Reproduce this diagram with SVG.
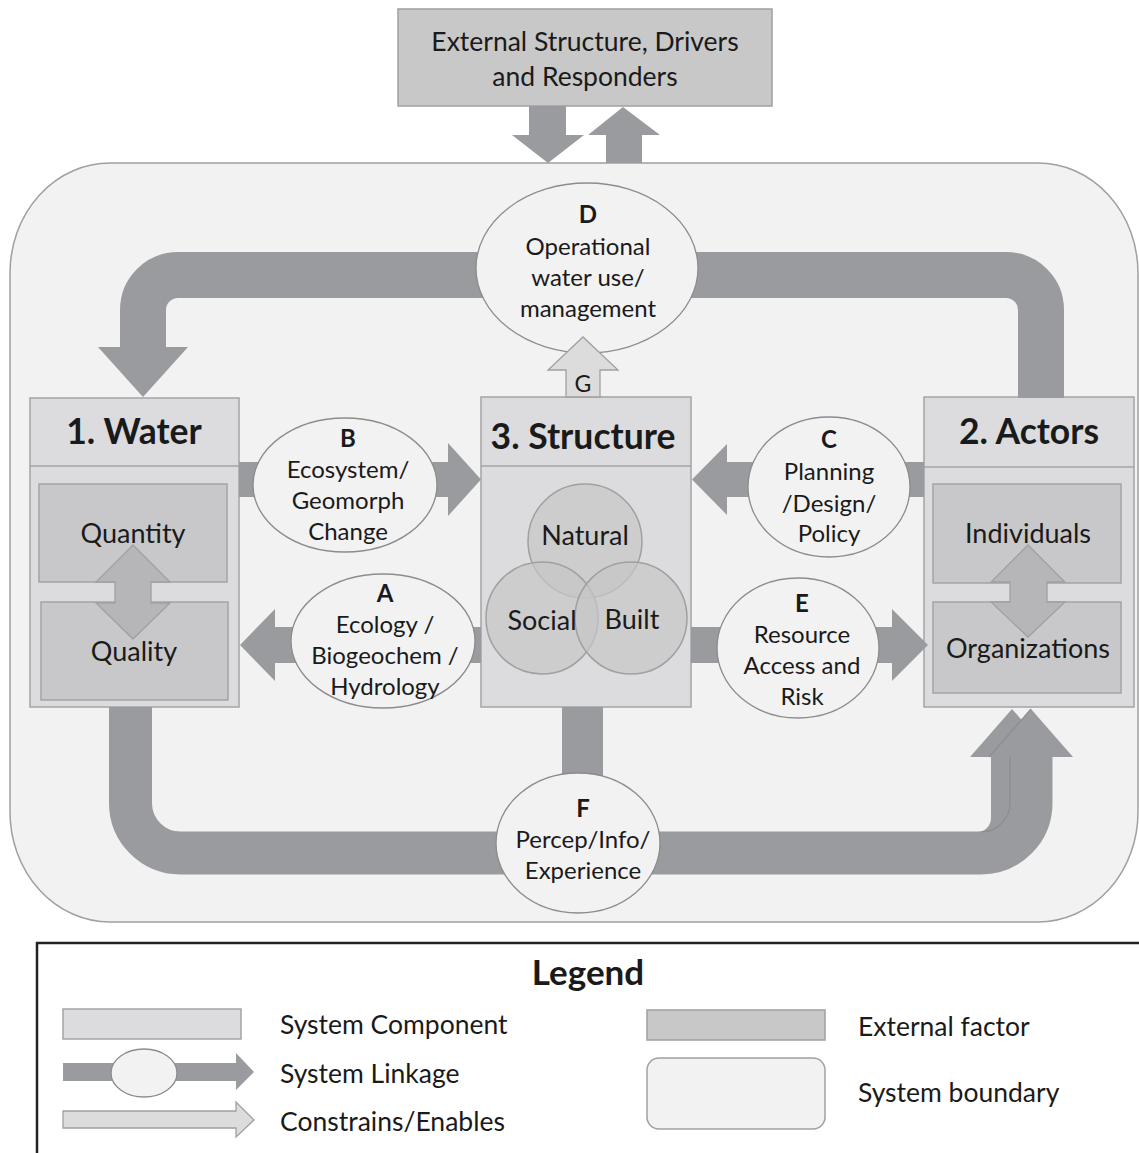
<svg xmlns="http://www.w3.org/2000/svg" width="1139" height="1153" viewBox="0 0 1139 1153">
<style>
text{font-family:Lato,"Open Sans","Liberation Sans",sans-serif;fill:#1a1a1a}
.hdr{font-size:35.5px;font-weight:bold;text-anchor:middle}
.sub{font-size:27px;text-anchor:middle}
.el{font-size:24px;text-anchor:middle}
.b{font-weight:bold}
.comp{fill:#dcdcde;stroke:#a4a4a6;stroke-width:1.5}
.inner{fill:#c8c8ca;stroke:#a4a4a6;stroke-width:1.5}
.ext{fill:#c8c8c8;stroke:#a0a0a0;stroke-width:1.5}
.link{fill:#f2f2f2;stroke:#8c8c8c;stroke-width:1.3}
.arr{fill:#9a9b9f}
.bar{fill:none;stroke:#9a9b9f}
.edge{fill:none;stroke:#8c8d91}
.light{fill:#dcdcdc;stroke:#a0a0a0;stroke-width:1.3}
.dbl{fill:#b6b6b9;stroke:#a0a0a2;stroke-width:1.3}
.circ{fill:#c6c6c8;fill-opacity:.7;stroke:#a0a0a2;stroke-width:1.5}
.leg{font-size:26.5px}
</style>
<rect width="1139" height="1153" fill="#ffffff"/>

<g id="system-boundary">
<rect x="10" y="163" width="1128" height="759" rx="100" ry="110" fill="#f2f2f2" stroke="#a0a0a0" stroke-width="1.5"/>
</g>

<g id="external">
<rect class="ext" x="398" y="9" width="374" height="97"/>
<text x="585" y="51" text-anchor="middle" font-size="26.5">External Structure, Drivers</text>
<text x="585" y="86" text-anchor="middle" font-size="26.5">and Responders</text>
</g>

<g id="water">
<rect class="comp" x="30" y="398" width="209" height="309"/>
<line x1="30" y1="466" x2="239" y2="466" stroke="#a4a4a6" stroke-width="1.5"/>
<text class="hdr" x="134" y="444">1. Water</text>
<rect class="inner" x="39" y="484" width="188" height="98"/>
<rect class="inner" x="41" y="602" width="187" height="98"/>
<text class="sub" x="133" y="543">Quantity</text>
<path class="dbl" d="M133,545 L170,582 H151 V603 H170 L133,639 L96,603 H115 V582 H96 Z"/>
<text class="sub" x="134" y="661">Quality</text>
</g>

<g id="structure">
<rect class="comp" x="481" y="397" width="210" height="310"/>
<line x1="481" y1="466" x2="691" y2="466" stroke="#a4a4a6" stroke-width="1.5"/>
<text class="hdr" x="583" y="449">3. Structure</text>
<circle class="circ" cx="585" cy="541" r="57"/>
<circle class="circ" cx="542" cy="618" r="56"/>
<circle class="circ" cx="631" cy="618" r="56"/>
<text class="sub" x="585" y="545">Natural</text>
<text class="sub" x="542" y="630">Social</text>
<text class="sub" x="632" y="629">Built</text>
</g>

<g id="actors">
<rect class="comp" x="924" y="397" width="210" height="310"/>
<line x1="924" y1="467" x2="1134" y2="467" stroke="#a4a4a6" stroke-width="1.5"/>
<text class="hdr" x="1029" y="444">2. Actors</text>
<rect class="inner" x="933" y="484" width="188" height="99"/>
<rect class="inner" x="933" y="602" width="188" height="91"/>
<text class="sub" x="1028" y="543">Individuals</text>
<path class="dbl" d="M1028,545 L1065,582 H1047 V602 H1065 L1028,637 L991,602 H1010 V582 H991 Z"/>
<text class="sub" x="1028" y="658">Organizations</text>
</g>

<g id="connectors">
<!-- external drivers / responders -->
<path class="arr" d="M529,106 H566 V135 H584 L548,163 L512,135 H529 Z"/>
<path class="arr" d="M606,163 V135 H588 L623,107 L660,135 H642 V163 Z"/>
<!-- D loop: Actors -> D -> Water -->
<path class="bar" stroke-width="46" d="M590,275 H178 A35,35 0 0 0 143,310 V348"/>
<path class="arr" d="M98,347 L188,347 L143,397 Z"/>
<path class="bar" stroke-width="46" d="M590,275 H1006 A35,35 0 0 1 1041,310 V398"/>
<!-- B: Water -> Structure -->
<rect class="arr" x="239" y="462" width="211" height="35"/>
<path class="arr" d="M448,443 L481,479.5 L448,516 Z"/>
<!-- A: Structure -> Water -->
<rect class="arr" x="274" y="627" width="207" height="36"/>
<path class="arr" d="M275,609 L240,645 L275,681 Z"/>
<!-- C: Actors -> Structure -->
<rect class="arr" x="726" y="462" width="198" height="35"/>
<path class="arr" d="M727,444 L692,479.5 L727,515 Z"/>
<!-- E: Structure -> Actors -->
<rect class="arr" x="691" y="627" width="202" height="36"/>
<path class="arr" d="M892,609 L928,645 L892,681 Z"/>
<!-- F: Structure / Water -> Actors -->
<rect class="arr" x="562" y="707" width="41" height="80"/>
<path class="bar" stroke-width="42" d="M650,853 H977 A35,35 0 0 0 1012,818 V756"/>
<path class="arr" d="M970,757 L1012,709 L1054,757 Z"/>
<path class="bar" stroke-width="43" d="M130.5,707 V803 A50,50 0 0 0 180.5,853 H981 A50,50 0 0 0 1031,803 V756"/>
<path class="edge" stroke-width="1.2" d="M1010,757 V803 A29,29 0 0 1 981,832"/>
<path class="arr" d="M989,757 L1031,709 L1073,757 Z"/>
<path class="edge" stroke-width="1.2" d="M989,757 L1031,709"/>
</g>

<g id="link-D">
<ellipse class="link" cx="587" cy="268" rx="111" ry="85"/>
<text class="el b" x="588" y="223">D</text>
<text class="el" x="588" y="255">Operational</text>
<text class="el" x="588" y="286">water use/</text>
<text class="el" x="588" y="317">management</text>
</g>

<g id="link-B">
<ellipse class="link" cx="345" cy="485" rx="92" ry="67"/>
<text class="el b" x="348" y="447">B</text>
<text class="el" x="348" y="478">Ecosystem/</text>
<text class="el" x="348" y="509">Geomorph</text>
<text class="el" x="348" y="540">Change</text>
</g>

<g id="link-A">
<ellipse class="link" cx="383" cy="641" rx="92" ry="67"/>
<text class="el b" x="385" y="602">A</text>
<text class="el" x="385" y="633">Ecology /</text>
<text class="el" x="385" y="664">Biogeochem /</text>
<text class="el" x="385" y="695">Hydrology</text>
</g>

<g id="link-C">
<ellipse class="link" cx="829" cy="487" rx="81" ry="70"/>
<text class="el b" x="829" y="448">C</text>
<text class="el" x="829" y="480">Planning</text>
<text class="el" x="829" y="512">/Design/</text>
<text class="el" x="829" y="542">Policy</text>
</g>

<g id="link-E">
<ellipse class="link" cx="798" cy="648" rx="81" ry="70"/>
<text class="el b" x="802" y="612">E</text>
<text class="el" x="802" y="643">Resource</text>
<text class="el" x="802" y="674">Access and</text>
<text class="el" x="802" y="705">Risk</text>
</g>

<g id="link-F">
<ellipse class="link" cx="578" cy="843" rx="82" ry="70"/>
<text class="el b" x="583" y="817">F</text>
<text class="el" x="583" y="848">Percep/Info/</text>
<text class="el" x="583" y="879">Experience</text>
</g>

<g id="connector-G">
<path class="light" d="M566,397 V370 H548 L583,337 L618,370 H600 V397 Z"/>
<text x="583" y="392" text-anchor="middle" font-size="23">G</text>
</g>

<g id="legend">
<rect x="37" y="943" width="1120" height="240" fill="#ffffff" stroke="#222222" stroke-width="2.5"/>
<text x="588" y="985" text-anchor="middle" font-size="35" font-weight="bold">Legend</text>
<rect class="comp" x="63" y="1009" width="178" height="30"/>
<text class="leg" x="280" y="1034">System Component</text>
<path class="arr" d="M63,1063 H236 V1053 L254,1072 L236,1090 V1081 H63 Z"/>
<ellipse class="link" cx="144" cy="1073" rx="33" ry="24"/>
<text class="leg" x="280" y="1083">System Linkage</text>
<path class="light" d="M63,1111 H236 V1102 L254,1120 L236,1137 V1128 H63 Z"/>
<text class="leg" x="280" y="1131">Constrains/Enables</text>
<rect class="ext" x="647" y="1010" width="178" height="30"/>
<text class="leg" x="858" y="1036">External factor</text>
<rect x="647" y="1058" width="178" height="71" rx="12" fill="#f2f2f2" stroke="#a0a0a0" stroke-width="1.5"/>
<text class="leg" x="858" y="1102">System boundary</text>
</g>
</svg>
